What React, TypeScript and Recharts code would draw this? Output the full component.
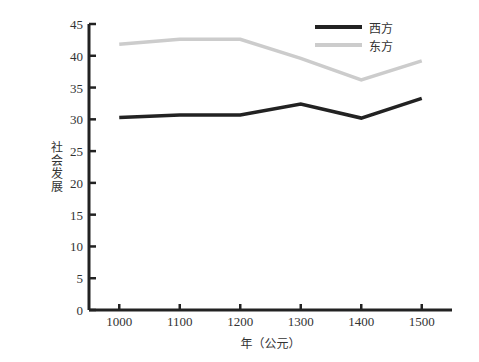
import { LineChart, Line, XAxis, YAxis, Label } from 'recharts'

const years = [1000, 1100, 1200, 1300, 1400, 1500]
const west = [30.3, 30.7, 30.7, 32.4, 30.2, 33.3]
const east = [41.8, 42.6, 42.6, 39.6, 36.2, 39.2]
const yTicks = [0, 5, 10, 15, 20, 25, 30, 35, 40, 45]

const data = years.map((year, i) => ({ year, west: west[i], east: east[i] }))

const INK = '#222'
const GREY = '#cccccc'
const SERIF = '"Liberation Serif", "DejaVu Serif", serif'
const CJK = '"Noto Sans CJK SC", "Noto Sans", sans-serif'

const series = [
  { key: 'west', name: '西方', color: INK },
  { key: 'east', name: '东方', color: GREY },
]

function YTick(props: any) {
  const { x, y, payload } = props
  return (
    <g>
      <line x1={x + 6} x2={x + 13} y1={y} y2={y} stroke={INK} strokeWidth={2.5} />
      <text x={x} y={y} dy={5} textAnchor="end" fontSize={13} fontFamily={SERIF} fill="#333">
        {payload.value}
      </text>
    </g>
  )
}

function XTick(props: any) {
  const { x, y, payload } = props
  return (
    <g>
      <line x1={x} x2={x} y1={y - 10} y2={y - 16} stroke={INK} strokeWidth={2.5} />
      <text x={x} y={y} dy={6} textAnchor="middle" fontSize={13} fontFamily={SERIF} fill="#333">
        {payload.value}
      </text>
    </g>
  )
}

// stacked vertical axis title, one text element
function VerticalLabel(props: any) {
  const { viewBox } = props
  const cx = viewBox.x + 49
  const cy = viewBox.y + viewBox.height / 2
  return (
    <text
      x={cx}
      y={cy}
      fontSize={12}
      fontFamily={CJK}
      fill="#333"
      textAnchor="middle"
      style={{ writingMode: 'vertical-rl', letterSpacing: 1 }}
    >
      社会发展
    </text>
  )
}

export default function App() {
  return (
    <div style={{ position: 'relative', width: 471, height: 354 }}>
      <LineChart width={471} height={354} data={data} margin={{ top: 16, right: 27, left: 0, bottom: 16 }}>
        <XAxis
          dataKey="year"
          type="number"
          domain={[950, 1550]}
          ticks={years}
          stroke={INK}
          strokeWidth={3}
          tickLine={false}
          tickSize={0}
          tickMargin={10}
          tick={<XTick />}
          height={36}
        >
          <Label value="年（公元）" position="insideBottom" offset={-2} fontSize={12} fontFamily={CJK} fill="#333" />
        </XAxis>
        <YAxis
          domain={[0, 45]}
          ticks={yTicks}
          stroke={INK}
          strokeWidth={3}
          tickLine={false}
          tickSize={0}
          tickMargin={6}
          tick={<YTick />}
          width={81}
          label={<VerticalLabel />}
        />
        {series.map((s) => (
          <Line
            key={s.key}
            dataKey={s.key}
            name={s.name}
            stroke={s.color}
            strokeWidth={3.5}
            dot={false}
            isAnimationActive={false}
          />
        ))}
      </LineChart>
      <div style={{ position: 'absolute', top: 10, left: 307 }}>
        {series.map((s) => (
          <div key={s.key} style={{ display: 'flex', alignItems: 'center', height: 18 }}>
            <div style={{ width: 47, height: 4, background: s.color, marginRight: 7 }} />
            <span style={{ fontSize: 12, fontFamily: CJK, color: '#333' }}>{s.name}</span>
          </div>
        ))}
      </div>
    </div>
  )
}
